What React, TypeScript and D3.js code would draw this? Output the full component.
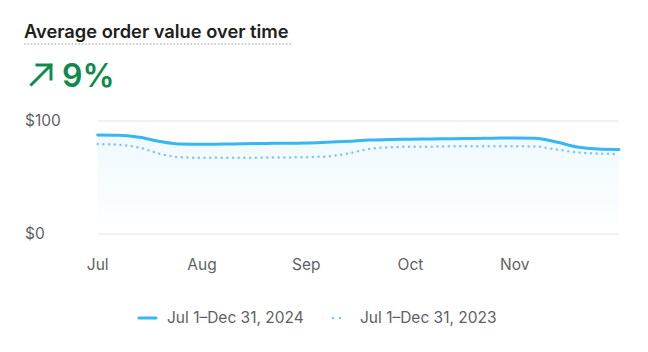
import React from "react";
import * as d3 from "d3";

const monthLabels = ["Jul", "Aug", "Sep", "Oct", "Nov"];
const monthTickIndex = [0, 5, 10, 15, 20];
const yTicks = [0, 100];
const series2024 = [87.6, 87.4, 85.6, 81.9, 79.6, 79.4, 79.6, 79.8, 80.1, 80.3, 80.5, 81.2, 82, 83.2, 83.6, 83.9, 84.1, 84.3, 84.6, 84.8, 85, 84.8, 81.4, 77, 75.2, 74.8];
const series2023 = [79.6, 78.9, 76.5, 70.8, 67.9, 67.5, 67.5, 67.5, 67.6, 67.7, 68, 68.6, 71.2, 75.2, 76.7, 77.2, 77.3, 77.6, 77.6, 77.6, 77.6, 77.4, 74.8, 72.3, 71.2, 70.8];
const legendLabels = ["Jul 1–Dec 31, 2024", "Jul 1–Dec 31, 2023"];

const W = 648, H = 352;
const left = 97.7, right = 619, top = 121, bottom = 234;
const font = "Inter, 'Noto Sans', sans-serif";
const mainColor = "#38B6F1";
const prevColor = "#7FC6EE";
const labelColor = "#5f5f66";

export default function App() {
  const x = d3.scaleLinear().domain([0, series2024.length - 1]).range([left, right]);
  const y = d3.scaleLinear().domain([0, 100]).range([bottom, top]);
  const line = d3.line<number>().x((_, i) => x(i)).y((d) => y(d)).curve(d3.curveMonotoneX);
  const area = d3.area<number>().x((_, i) => x(i)).y0(y(0)).y1((d) => y(d)).curve(d3.curveMonotoneX);

  return (
    <svg width={W} height={H} style={{ position: "absolute", left: 0, top: 0, background: "#fff" }}>
      <defs>
        <linearGradient id="ag" x1="0" y1="0" x2="0" y2="1">
          <stop offset="0%" stopColor={mainColor} stopOpacity={0.08} />
          <stop offset="100%" stopColor={mainColor} stopOpacity={0} />
        </linearGradient>
      </defs>
      <text x={24} y={37.5} fontFamily={font} fontSize={18.3} fontWeight={600} fill="#202020">Average order value over time</text>
      <line x1={24} x2={291} y1={44} y2={44} stroke="#bdbdbd" strokeWidth={1.6} strokeDasharray="1.6 1.8" />
      <path d="M31.5,84.5 L51,65 M37,65 L51,65 L51,79" fill="none" stroke="#0F8A4B" strokeWidth={3} strokeLinecap="square" />
      <text x={62} y={86.7} fontFamily={font} fontSize={32} fontWeight={600} fill="#0F8A4B">9%</text>

      {yTicks.map((t) => (
        <g key={t}>
          <line x1={left} x2={right} y1={y(t)} y2={y(t)} stroke="#e4e4e4" strokeWidth={1} />
          <text x={25} y={y(t)} dy="0.35em" fontFamily={font} fontSize={15.5} fill={labelColor}>${t}</text>
        </g>
      ))}
      {monthTickIndex.map((ti, k) => (
        <text key={k} x={x(ti)} y={270} textAnchor="middle" fontFamily={font} fontSize={15.5} fill={labelColor}>{monthLabels[k]}</text>
      ))}

      <path d={area(series2024) || ""} fill="url(#ag)" />
      <path d={line(series2023) || ""} fill="none" stroke={prevColor} strokeWidth={2.5} strokeLinecap="round" strokeDasharray="0 5.7" />
      <path d={line(series2024) || ""} fill="none" stroke={mainColor} strokeWidth={3} strokeLinecap="round" />

      <line x1={139} x2={156} y1={318} y2={318} stroke={mainColor} strokeWidth={3} strokeLinecap="round" />
      <text x={167} y={318} dy="0.35em" fontFamily={font} fontSize={15.5} fill={labelColor}>{legendLabels[0]}</text>
      <line x1={333} x2={347} y1={318} y2={318} stroke={prevColor} strokeWidth={2.5} strokeLinecap="round" strokeDasharray="0 7" />
      <text x={360} y={318} dy="0.35em" fontFamily={font} fontSize={15.5} fill={labelColor}>{legendLabels[1]}</text>
    </svg>
  );
}
